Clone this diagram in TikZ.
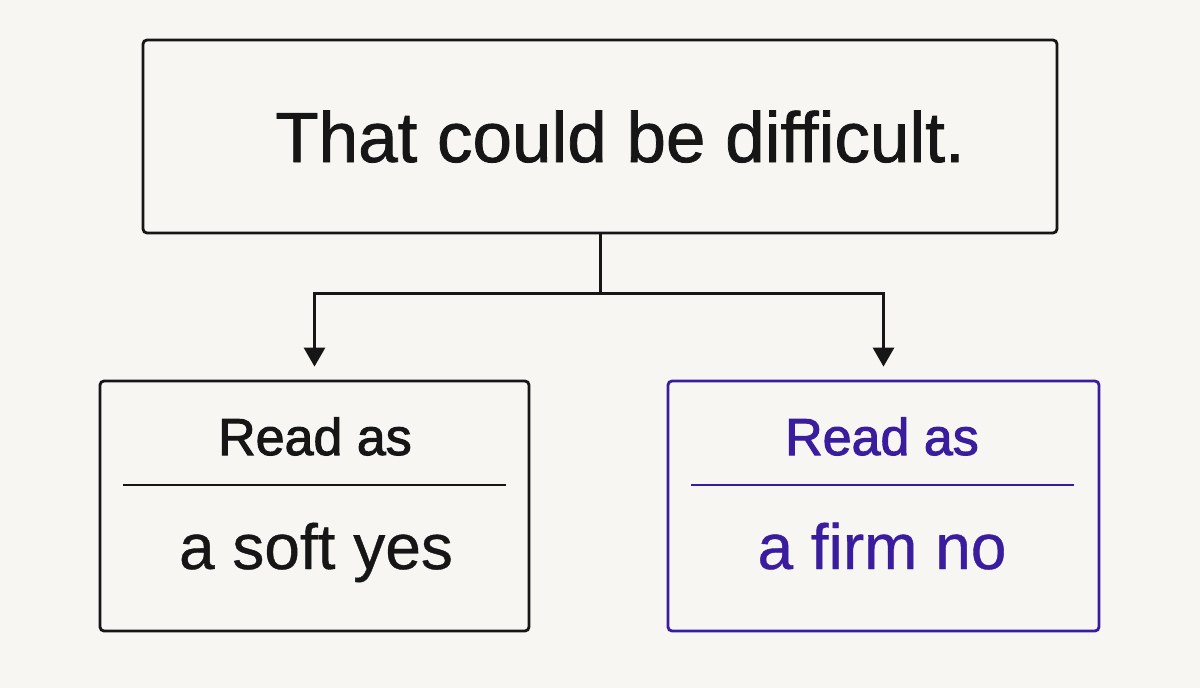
\documentclass[tikz,border=0pt]{standalone}
\usepackage{fontspec}
\setmainfont{Liberation Sans}
\newfontfamily\regfont[FakeBold=0.6]{Liberation Sans}
\newfontfamily\medfont[FakeBold=1.1]{Liberation Sans}
\newfontfamily\semifont[FakeBold=1.9]{Liberation Sans}
\usetikzlibrary{arrows.meta}
\definecolor{bg}{HTML}{F7F6F3}
\definecolor{ink}{HTML}{161616}
\definecolor{purp}{HTML}{3A1C9E}
\tikzset{
  box/.style={draw=ink, line width=2.8pt, rounded corners=4pt, fill=none, inner sep=0pt},
  pbox/.style={box, draw=purp},
  conn/.style={draw=ink, line width=3pt, -{Triangle[width=21pt,length=19pt]}, shorten >=13pt},
  txt/.style={inner sep=0pt, anchor=base, text=ink},
}
\begin{document}
\begin{tikzpicture}[x=1pt,y=-1pt]
\fill[bg] (0,0) rectangle (1200,688);
\useasboundingbox (0,0) rectangle (1200,688);
\node[box, minimum width=914pt, minimum height=193pt] (top) at (600,136.5) {};
\node[txt, font=\medfont\fontsize{71}{80}\selectfont] (toptext) at (620,162) {That could be difficult.};
\node[box, minimum width=429pt, minimum height=250pt] (left) at (314.5,506) {};
\node[pbox, minimum width=431pt, minimum height=250pt] (right) at (883.5,506) {};
\node[txt, font=\semifont\fontsize{52}{60}\selectfont] (lread) at (315,455) {Read as};
\node[txt, font=\regfont\fontsize{64}{72}\selectfont] (lans) at (316,569) {a soft yes};
\node[txt, text=purp, font=\semifont\fontsize{52}{60}\selectfont] (rread) at (882,455) {Read as};
\node[txt, text=purp, font=\regfont\fontsize{64}{72}\selectfont] (rans) at (882,569) {a firm no};
\coordinate (l1) at (123,485); \coordinate (l2) at (506,485);
\coordinate (r1) at (691,485); \coordinate (r2) at (1074,485);
\draw[ink, line width=2.2pt] (l1) -- (l2);
\draw[purp, line width=2.2pt] (r1) -- (r2);
\coordinate (split) at (600,293);
\draw[conn] (top.south) -- (split) -| (left.north);
\draw[conn] (split) -| (right.north);
\end{tikzpicture}
\end{document}
